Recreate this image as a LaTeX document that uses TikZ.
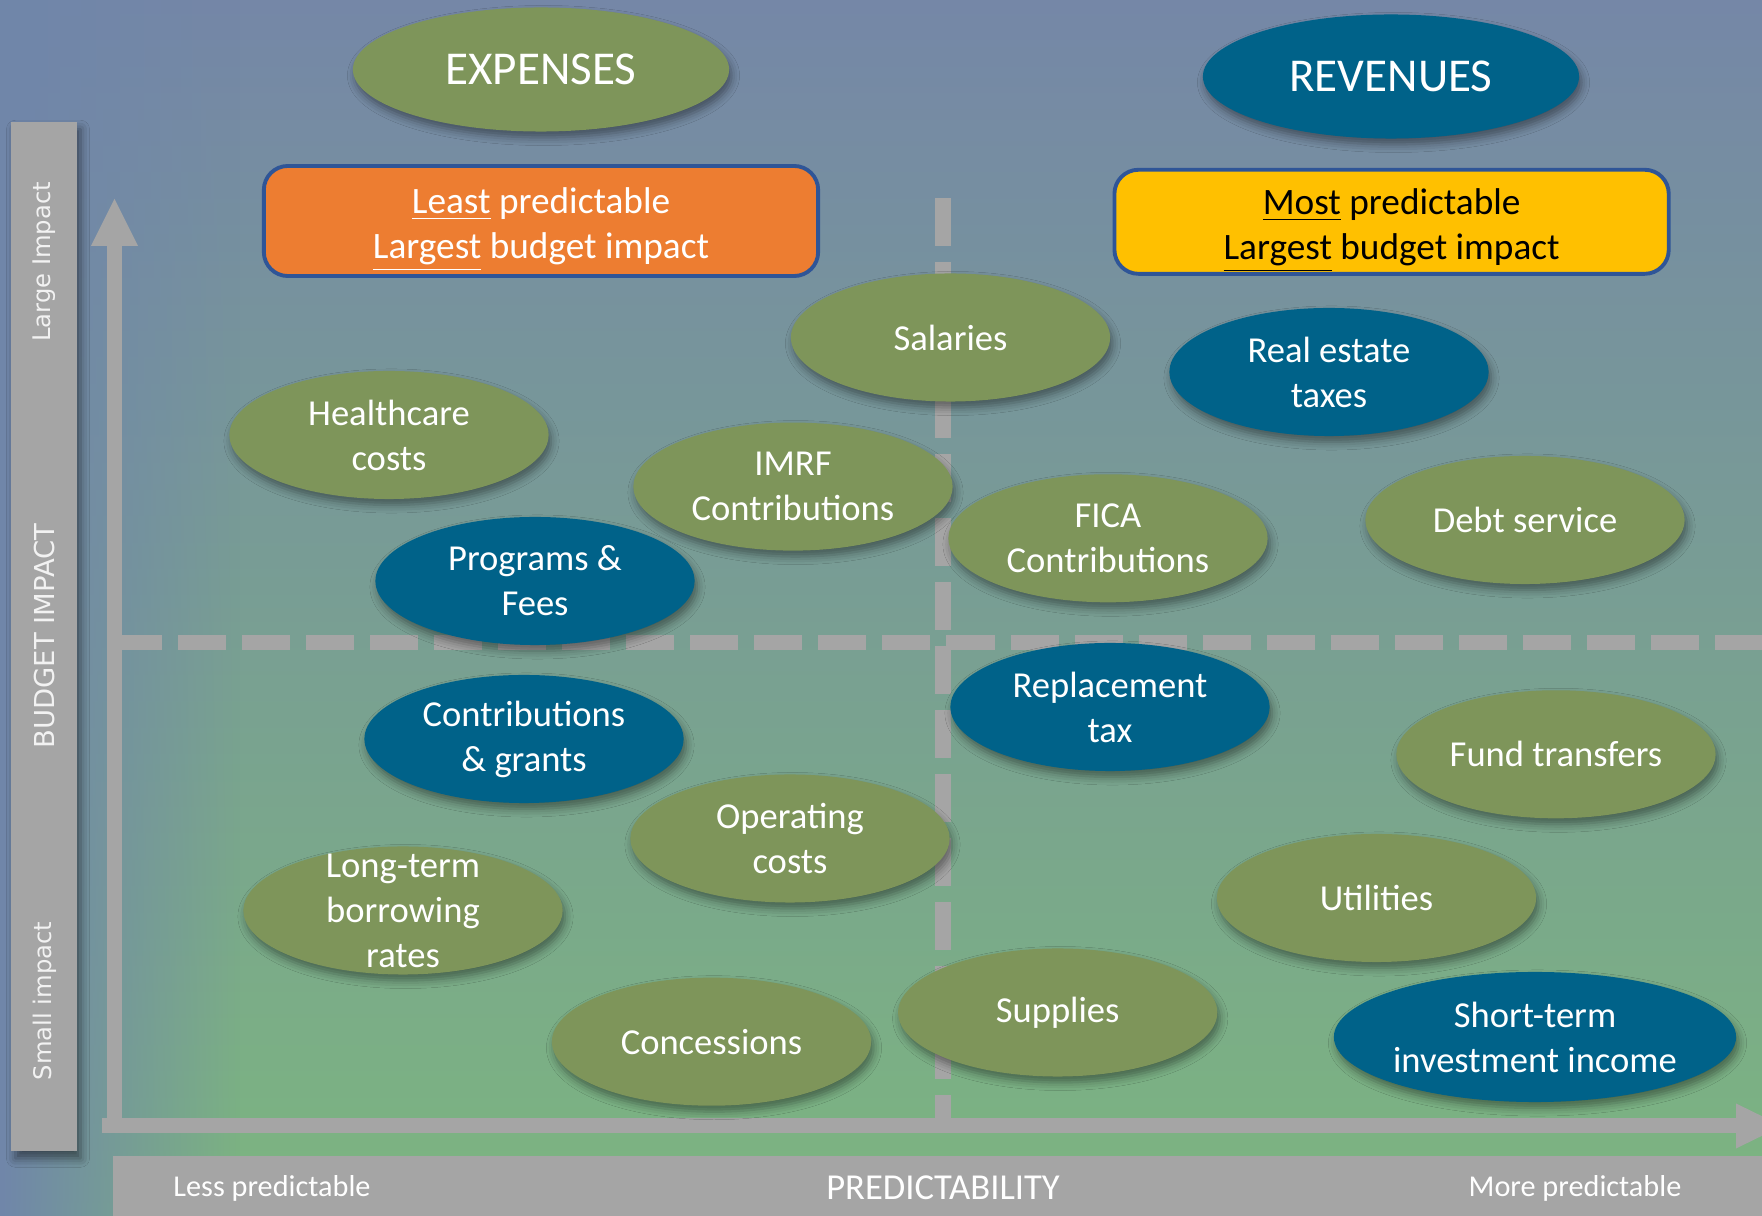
\documentclass[tikz,border=0pt]{standalone}
\usepackage{fontspec}
\setmainfont{Carlito}
\newfontfamily\sidefont{DejaVu Sans}
\usetikzlibrary{shapes.geometric,shadows.blur,fadings}

\definecolor{bgtop}{RGB}{117,135,167}
\definecolor{bgmid}{RGB}{121,160,156}
\definecolor{bgbot}{RGB}{124,181,128}
\definecolor{bgleft}{RGB}{112,134,170}
\definecolor{olive}{RGB}{126,149,90}
\definecolor{deepblue}{RGB}{0,98,137}
\definecolor{axisgray}{RGB}{165,165,165}
\definecolor{boxorange}{RGB}{237,125,49}
\definecolor{boxyellow}{RGB}{255,192,0}
\definecolor{boxedge}{RGB}{47,85,151}
\definecolor{sidetextcol}{RGB}{242,242,242}

\tikzfading[name=fadeleft, left color=transparent!0, right color=transparent!100]

\tikzset{
  softshadow/.style={blur shadow={shadow xshift=0.25mm, shadow yshift=-0.6mm,
      shadow blur radius=0.8mm, shadow opacity=42}},
  bubble/.style={ellipse, minimum width=3.19cm, minimum height=1.28cm,
      inner xsep=0pt, inner ysep=-8pt, align=center, text=white,
      font=\fontsize{10.4}{12.8}\selectfont, softshadow},
  expense/.style={bubble, fill=olive},
  revenue/.style={bubble, fill=deepblue},
  header/.style={ellipse, minimum width=3.76cm, minimum height=1.24cm,
      inner sep=0pt, text=white, font=\fontsize{13.4}{16}\selectfont, softshadow},
  keybox/.style={rectangle, rounded corners=0.24cm, draw=boxedge, line width=1.1pt,
      minimum width=5.54cm, inner sep=0pt},
  keytext/.style={inner sep=0pt, align=center, font=\fontsize{10.6}{12.8}\selectfont},
  axisline/.style={draw=axisgray, line width=0.15cm},
  gridline/.style={draw=axisgray, line width=0.15cm, dash pattern=on 0.48cm off 0.16cm},
  sidelabel/.style={text=sidetextcol, rotate=90, inner sep=0pt,
      font=\sidefont\fontsize{6.9}{8}\selectfont},
  scalelabel/.style={text=white, inner sep=0pt, font=\fontsize{8.6}{10}\selectfont},
}

\begin{document}
\begin{tikzpicture}[x=0.01cm, y=-0.01cm]
\clip (0,0) rectangle (1762,1216);

% background
\shade[top color=bgtop, middle color=bgmid, bottom color=bgbot] (0,0) rectangle (1762,1216);
\fill[bgleft, path fading=fadeleft] (0,0) rectangle (240,1216);

% quadrant dividers
\coordinate (hdash-start) at (114,642.5);
\coordinate (hdash-end) at (1762,642.5);
\coordinate (vdash-start) at (943,198);
\coordinate (vdash-end) at (943,1118);
\draw[gridline] (hdash-start) -- (hdash-end);
\draw[gridline] (vdash-start) -- (vdash-end);

% axes
\coordinate (origin) at (114.5,1126);
\coordinate (yhead) at (114.5,246);
\coordinate (ytip) at (114.5,199);
\coordinate (xstart) at (102,1126);
\coordinate (xhead) at (1736,1126);
\coordinate (xtip) at (1782,1126);
\draw[axisline] (origin) -- (yhead);
\fill[axisgray] ([xshift=-0.235cm]yhead) -- (ytip) -- ([xshift=0.235cm]yhead) -- cycle;
\draw[axisline] (xstart) -- (xhead);
\fill[axisgray] ([yshift=0.225cm]xhead) -- (xtip) -- ([yshift=-0.225cm]xhead) -- cycle;

% budget impact bar
\node[fill=axisgray, minimum width=0.65cm, minimum height=10.285cm, inner sep=0pt,
      blur shadow={shadow xshift=0.4mm, shadow yshift=-0.7mm, shadow blur radius=0.9mm, shadow opacity=50}]
      (impactbar) at (44,636.75) {};
\node[sidelabel] (large) at (44.5,262) {Large Impact};
\node[sidelabel, font=\sidefont\fontsize{7.8}{9}\selectfont] (budget) at (44.5,636) {BUDGET IMPACT};
\node[sidelabel] (small) at (44.5,1001) {Small impact};

% predictability bar
\node[fill=axisgray, minimum width=16.49cm, minimum height=0.62cm, inner sep=0pt]
      (predbar) at (938,1187) {};
\node[scalelabel] (lesspred) at (272,1188) {Less predictable};
\node[scalelabel, font=\fontsize{10.4}{12}\selectfont] (predictability) at (943,1188) {PREDICTABILITY};
\node[scalelabel] (morepred) at (1575,1188) {More predictable};

% headings
\node[header, fill=olive] (expenses) at (541,69.5) {EXPENSES};
\node[header, fill=deepblue] (revenues) at (1391,76.5) {REVENUES};

\node[keybox, fill=boxorange, minimum height=1.1cm] (leastbox) at (541,221) {};
\node[keytext, text=white] (leasttext) at ([yshift=-0.085cm]leastbox.center)
  {\underline{Least} predictable\\\underline{Largest} budget impact};
\node[keybox, fill=boxyellow, minimum height=1.04cm] (mostbox) at (1391.6,221.8) {};
\node[keytext, text=black] (mosttext) at ([yshift=-0.085cm]mostbox.center)
  {\underline{Most} predictable\\\underline{Largest} budget impact};

% budget items
\node[expense] (salaries) at (950.5,337.5) {Salaries};
\node[expense] (healthcare) at (389,435) {Healthcare\\costs};
\node[expense] (imrf) at (793,486.6) {IMRF\\Contributions};
\node[revenue] (programs) at (535,581) {Programs \&\\Fees};
\node[revenue] (realestate) at (1329,372) {Real estate\\taxes};
\node[expense] (fica) at (1108,538.3) {FICA\\Contributions};
\node[expense] (debt) at (1525,520) {Debt service};
\node[revenue] (replacement) at (1110,707) {Replacement\\tax};
\node[expense] (fund) at (1556,754.3) {Fund transfers};
\node[revenue] (grants) at (524,739) {Contributions\\\& grants};
\node[expense] (operating) at (790,838.5) {Operating\\costs};
\node[expense] (longterm) at (403,910.5) {Long-term\\borrowing\\rates};
\node[expense] (utilities) at (1376.5,898) {Utilities};
\node[expense] (concessions) at (711.5,1041.7) {Concessions};
\node[expense] (supplies) at (1057.7,1012.5) {Supplies};
\node[revenue, minimum width=4.02cm, minimum height=1.3cm] (shortterm) at (1535,1037)
  {Short-term\\investment income};
\end{tikzpicture}
\end{document}
